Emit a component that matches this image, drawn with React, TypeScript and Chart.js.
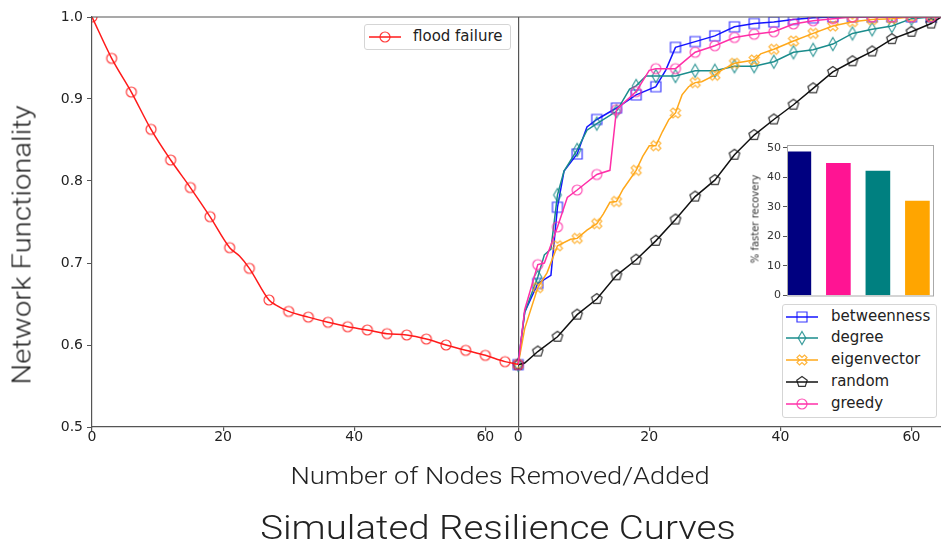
import React, { useEffect, useRef } from "react";
import { Chart, registerables } from "chart.js";
Chart.register(...registerables);

// ---------- data ----------
const OFFSET = 65; // right panel starts where the left panel ends
const X_MAX = 129.5;
const X_TICK_VALUES = [0, 20, 40, 60, 65, 85, 105, 125];
const X_TICK_LABELS = ["0", "20", "40", "60", "0", "20", "40", "60"];
const Y_TICKS = [0.5, 0.6, 0.7, 0.8, 0.9, 1.0];

const FLOOD_X = [0, 3, 6, 9, 12, 15, 18, 21, 22.5, 24, 27, 28, 30, 33, 36, 39, 42, 45, 48, 51, 54, 57, 60, 63, 65];
const FLOOD_Y = [1.0, 0.9496, 0.9085, 0.863, 0.8256, 0.792, 0.7565, 0.7187, 0.7085, 0.6935, 0.6549, 0.649, 0.641, 0.634, 0.6277, 0.6223, 0.6183, 0.6138, 0.6122, 0.6073, 0.6, 0.5935, 0.5874, 0.5797, 0.5765];

const BETW_X = [0, 1, 3, 5, 6, 7, 9, 10.5, 12, 15, 18, 21, 22.5, 24, 27, 30, 33, 36, 39, 42, 45, 48, 51, 54, 57, 60, 63, 64.5];
const BETW_Y = [0.576, 0.64, 0.675, 0.685, 0.768, 0.812, 0.833, 0.866, 0.875, 0.889, 0.905, 0.915, 0.935, 0.963, 0.97, 0.977, 0.988, 0.992, 0.994, 0.997, 0.999, 1.0, 1.0, 1.0, 1.0, 1.0, 1.0, 1.0];

const DEG_X = [0, 1, 3, 4, 5, 6, 7, 9, 10.5, 12, 15, 17, 18, 19.5, 21, 24, 27, 30, 33, 36, 39, 42, 45, 48, 51, 54, 57, 60, 63, 64.5];
const DEG_Y = [0.576, 0.64, 0.683, 0.71, 0.717, 0.783, 0.812, 0.838, 0.862, 0.87, 0.885, 0.912, 0.916, 0.928, 0.928, 0.928, 0.9345, 0.9345, 0.94, 0.94, 0.9455, 0.957, 0.96, 0.967, 0.98, 0.985, 0.989, 0.998, 1.0, 1.0];

const EIG_X = [0, 1, 3, 4.4, 6, 8, 9, 10.5, 12, 13, 14, 15, 16, 18, 19, 20, 21, 22, 23, 24, 25, 26, 27, 28, 30, 31, 33, 36, 37, 39, 42, 45, 48, 51, 54, 57, 60, 63, 64.5];
const EIG_Y = [0.576, 0.62, 0.67, 0.688, 0.721, 0.729, 0.73, 0.74, 0.748, 0.76, 0.774, 0.775, 0.79, 0.813, 0.83, 0.843, 0.843, 0.86, 0.875, 0.883, 0.905, 0.915, 0.92, 0.921, 0.929, 0.935, 0.9435, 0.9476, 0.955, 0.9606, 0.9707, 0.98, 0.989, 0.9943, 0.997, 0.998, 1.0, 1.0, 1.0];

const RAND_X = [0, 1, 3, 6, 9, 12, 15, 18, 21, 24, 27, 30, 33, 36, 39, 42, 45, 48, 51, 54, 57, 60, 63, 64.5];
const RAND_Y = [0.576, 0.578, 0.592, 0.61, 0.637, 0.656, 0.685, 0.704, 0.727, 0.753, 0.781, 0.801, 0.832, 0.856, 0.875, 0.893, 0.913, 0.933, 0.946, 0.958, 0.973, 0.982, 0.992, 1.0];

const GREEDY_X = [0, 1, 3, 4, 6, 7.5, 9, 12, 14, 15, 18, 20, 21, 24, 27, 30, 33, 36, 39, 42, 45, 48, 51, 54, 57, 60, 63, 64.5];
const GREEDY_Y = [0.576, 0.643, 0.698, 0.7, 0.744, 0.78, 0.789, 0.808, 0.813, 0.887, 0.909, 0.935, 0.937, 0.937, 0.957, 0.965, 0.975, 0.979, 0.982, 0.9915, 0.9955, 0.998, 1.0, 1.0, 1.0, 1.0, 1.0, 1.0];

const BAR_LABELS = ["betweenness", "greedy", "degree", "eigenvector"];
const BAR_VALUES = [48.7, 44.8, 42.2, 32.0];
const BAR_COLORS = ["#000080", "#ff1493", "#008080", "#ffa500"];
const BAR_TICKS = [0, 10, 20, 30, 40, 50];

// ---------- styles ----------
const MARKER_PATHS: Record<string, string> = {
  square: "M-5 -5 H5 V5 H-5 Z",
  circle: "M5 0 A5 5 0 1 0 -5 0 A5 5 0 1 0 5 0 Z",
  thinDiamond: "M0 -6.5 L3.8 0 L0 6.5 L-3.8 0 Z",
  xFilled: "M-2.5 -5 L0 -2.5 L2.5 -5 L5 -2.5 L2.5 0 L5 2.5 L2.5 5 L0 2.5 L-2.5 5 L-5 2.5 L-2.5 0 L-5 -2.5 Z",
  pentagon: "M0 -5.5 L5.23 -1.7 L3.23 4.45 L-3.23 4.45 L-5.23 -1.7 Z",
};

const FLOOD = { name: "flood failure", xs: FLOOD_X, ys: FLOOD_Y, color: "#ff1a1a", marker: "circle", offset: 0 };
const SERIES = [
  { name: "betweenness", xs: BETW_X, ys: BETW_Y, color: "#1414ff", marker: "square", offset: OFFSET, order: 5 },
  { name: "degree", xs: DEG_X, ys: DEG_Y, color: "#1a8c8c", marker: "thinDiamond", offset: OFFSET, order: 4 },
  { name: "eigenvector", xs: EIG_X, ys: EIG_Y, color: "#ffa81a", marker: "xFilled", offset: OFFSET, order: 3 },
  { name: "random", xs: RAND_X, ys: RAND_Y, color: "#111111", marker: "pentagon", offset: OFFSET, order: 2 },
  { name: "greedy", xs: GREEDY_X, ys: GREEDY_Y, color: "#ff2fa8", marker: "circle", offset: OFFSET, order: 1 },
];

const SPINE = "#555";
const TICK_FONT = { family: "'DejaVu Sans', sans-serif", size: 14 };
const LABEL_FONT = "Roboto, 'Open Sans', sans-serif";

function makeMarker(path: string, color: string) {
  const c = document.createElement("canvas");
  c.width = 18;
  c.height = 18;
  const g = c.getContext("2d")!;
  g.translate(9, 9);
  g.lineWidth = 1.2;
  g.strokeStyle = color;
  g.globalAlpha = 0.85;
  g.stroke(new Path2D(path));
  return c;
}

function buildDataset(s: any) {
  const img = makeMarker(MARKER_PATHS[s.marker], s.color);
  return {
    label: s.name,
    data: s.xs.map((x: number, i: number) => ({ x: x + s.offset, y: s.ys[i], m: Math.abs(x % 3) < 1e-9 })),
    borderColor: s.color,
    borderWidth: 1.5,
    pointStyle: img,
    pointRadius: (ctx: any) => (ctx.raw && ctx.raw.m ? 5 : 0),
    pointHoverRadius: 0,
    tension: 0,
    cubicInterpolationMode: s.offset === 0 ? "monotone" : "default",
    fill: false,
    clip: 0,
    order: s.order ?? 0,
  };
}

const framePlugin = {
  id: "frame",
  afterDatasetsDraw(chart: any) {
    const { ctx, chartArea } = chart;
    ctx.save();
    ctx.strokeStyle = SPINE;
    ctx.lineWidth = 1.2;
    ctx.beginPath();
    ctx.moveTo(chartArea.left, chartArea.top);
    ctx.lineTo(chartArea.right, chartArea.top);
    ctx.stroke();
    ctx.restore();
  },
};

const insetFrame = {
  id: "insetFrame",
  beforeDatasetsDraw(chart: any) {
    const { ctx, chartArea } = chart;
    ctx.save();
    ctx.fillStyle = "#fff";
    ctx.fillRect(chartArea.left, chartArea.top, chartArea.right - chartArea.left, chartArea.bottom - chartArea.top);
    ctx.restore();
  },
  afterDatasetsDraw(chart: any) {
    const { ctx, chartArea } = chart;
    ctx.save();
    ctx.strokeStyle = "#aaa";
    ctx.lineWidth = 1;
    ctx.strokeRect(chartArea.left + 0.5, chartArea.top + 0.5, chartArea.right - chartArea.left - 1, chartArea.bottom - chartArea.top);
    ctx.restore();
  },
};

function LegendMarker({ color, marker }: { color: string; marker: string }) {
  return (
    <svg width={32} height={20} style={{ position: "absolute", left: 0, top: 0 }}>
      <line x1={0} x2={32} y1={10} y2={10} stroke={color} strokeWidth={1.5} />
      <path d={MARKER_PATHS[marker]} transform="translate(16,10)" fill="none" stroke={color} strokeWidth={1.2} opacity={0.85} />
    </svg>
  );
}

export default function App() {
  const mainRef = useRef<HTMLCanvasElement>(null);
  const insetRef = useRef<HTMLCanvasElement>(null);

  useEffect(() => {
    const main = new Chart(mainRef.current!, {
      type: "line",
      data: { datasets: [buildDataset(FLOOD), ...SERIES.map(buildDataset)] as any },
      options: {
        animation: false,
        responsive: false,
        maintainAspectRatio: false,
        events: [],
        layout: { autoPadding: false, padding: { top: 17, left: 0, right: 0, bottom: 78 } },
        plugins: { legend: { display: false }, tooltip: { enabled: false } },
        scales: {
          x: {
            type: "linear",
            min: 0,
            max: X_MAX,
            afterBuildTicks: (s: any) => {
              s.ticks = X_TICK_VALUES.map((v) => ({ value: v }));
            },
            afterFit: (s: any) => {
              s.height = 40;
              s.paddingLeft = 0;
              s.paddingRight = 0;
            },
            ticks: {
              autoSkip: false,
              maxRotation: 0,
              padding: -2,
              color: "#222",
              font: TICK_FONT,
              callback: (v: any) => X_TICK_LABELS[X_TICK_VALUES.indexOf(Number(v))] ?? "",
            },
            grid: {
              color: (ctx: any) => (ctx.tick && ctx.tick.value === OFFSET ? SPINE : "rgba(0,0,0,0)"),
              tickColor: SPINE,
              tickLength: 4,
              lineWidth: 1.2,
            },
            border: { display: true, color: SPINE, width: 1.2 },
          },
          y: {
            min: 0.5,
            max: 1.0,
            afterBuildTicks: (s: any) => {
              s.ticks = Y_TICKS.map((v) => ({ value: v }));
            },
            afterFit: (s: any) => {
              s.width = 92;
              s.paddingTop = 0;
              s.paddingBottom = 0;
            },
            ticks: {
              padding: 4,
              color: "#222",
              font: TICK_FONT,
              callback: (v: any) => Number(v).toFixed(1),
            },
            grid: { color: "rgba(0,0,0,0)", tickColor: SPINE, tickLength: 5 },
            border: { display: true, color: SPINE, width: 1.2 },
          },
        },
      } as any,
      plugins: [framePlugin],
    });

    const inset = new Chart(insetRef.current!, {
      type: "bar",
      data: {
        labels: BAR_LABELS,
        datasets: [
          {
            data: BAR_VALUES.map((v, i) => ({ x: i, y: v })) as any,
            backgroundColor: BAR_COLORS,
            borderWidth: 0,
            barThickness: 24,
          },
        ],
      },
      options: {
        animation: false,
        responsive: false,
        maintainAspectRatio: false,
        events: [],
        layout: { autoPadding: false, padding: { top: 15, left: 0, right: 6, bottom: 9.5 } },
        plugins: { legend: { display: false }, tooltip: { enabled: false } },
        scales: {
          x: { type: "linear", min: -0.3, max: 3.42, display: false, offset: false, grid: { offset: false } },
          y: {
            min: 0,
            max: 51,
            afterBuildTicks: (s: any) => {
              s.ticks = BAR_TICKS.map((v) => ({ value: v }));
            },
            afterFit: (s: any) => {
              s.width = 47;
              s.paddingTop = 0;
              s.paddingBottom = 0;
            },
            ticks: { padding: 2, color: "#333", font: { family: "'DejaVu Sans', sans-serif", size: 11 } },
            grid: { color: "rgba(0,0,0,0)", tickColor: "#555", tickLength: 4 },
            border: { display: true, color: "#aaa", width: 1 },
          },
        },
      } as any,
      plugins: [insetFrame],
    });

    return () => {
      main.destroy();
      inset.destroy();
    };
  }, []);

  const legendRowTop = (i: number) => 316.7 + 21.7 * i - 10;

  return (
    <div style={{ position: "absolute", left: 0, top: 0, width: 941, height: 545, background: "#fff", overflow: "hidden" }}>
      <canvas ref={mainRef} width={941} height={545} style={{ position: "absolute", left: 0, top: 0, width: 941, height: 545 }} />

      {/* inset bar chart */}
      <canvas ref={insetRef} width={200} height={175} style={{ position: "absolute", left: 740, top: 130, width: 200, height: 175 }} />
      <div
        style={{
          position: "absolute",
          left: 755,
          top: 219,
          transform: "translate(-50%,-50%) rotate(-90deg)",
          whiteSpace: "nowrap",
          font: "10px 'DejaVu Sans', sans-serif",
          color: "#333",
        }}
      >
        % faster recovery
      </div>

      {/* flood legend */}
      <div
        style={{
          position: "absolute",
          left: 364,
          top: 24,
          width: 147,
          height: 26,
          boxSizing: "border-box",
          border: "1px solid #d5d5d5",
          borderRadius: 3,
          background: "#fff",
        }}
      />
      <div style={{ position: "absolute", left: 369, top: 27, width: 32, height: 20 }}>
        <LegendMarker color={FLOOD.color} marker={FLOOD.marker} />
      </div>
      <div style={{ position: "absolute", left: 413, top: 27, height: 20, lineHeight: "20px", font: "15px 'DejaVu Sans', sans-serif", color: "#222", whiteSpace: "nowrap" }}>
        {FLOOD.name}
      </div>

      {/* right legend */}
      <div
        style={{
          position: "absolute",
          left: 782,
          top: 304,
          width: 155,
          height: 114,
          boxSizing: "border-box",
          border: "1px solid #d5d5d5",
          borderRadius: 3,
          background: "#fff",
        }}
      />
      {SERIES.map((s, i) => (
        <React.Fragment key={s.name}>
          <div style={{ position: "absolute", left: 786, top: legendRowTop(i), width: 32, height: 20 }}>
            <LegendMarker color={s.color} marker={s.marker} />
          </div>
          <div
            style={{
              position: "absolute",
              left: 831,
              top: legendRowTop(i),
              height: 20,
              lineHeight: "20px",
              font: "15px 'DejaVu Sans', sans-serif",
              color: "#222",
              whiteSpace: "nowrap",
            }}
          >
            {s.name}
          </div>
        </React.Fragment>
      ))}

      {/* axis titles */}
      <div
        style={{
          position: "absolute",
          left: 22,
          top: 245,
          transform: "translate(-50%,-50%) rotate(-90deg) scaleX(1.17)",
          whiteSpace: "nowrap",
          fontFamily: LABEL_FONT,
          fontWeight: 300,
          fontSize: 25,
          color: "#222",
        }}
      >
        Network Functionality
      </div>
      <div
        style={{
          position: "absolute",
          left: 500,
          top: 476,
          transform: "translate(-50%,-50%) scaleX(1.136)",
          whiteSpace: "nowrap",
          fontFamily: LABEL_FONT,
          fontWeight: 300,
          fontSize: 24,
          color: "#222",
        }}
      >
        Number of Nodes Removed/Added
      </div>
      <div
        style={{
          position: "absolute",
          left: 498,
          top: 527,
          transform: "translate(-50%,-50%) scaleX(1.165)",
          whiteSpace: "nowrap",
          fontFamily: LABEL_FONT,
          fontWeight: 300,
          fontSize: 33,
          color: "#222",
        }}
      >
        Simulated Resilience Curves
      </div>
    </div>
  );
}
